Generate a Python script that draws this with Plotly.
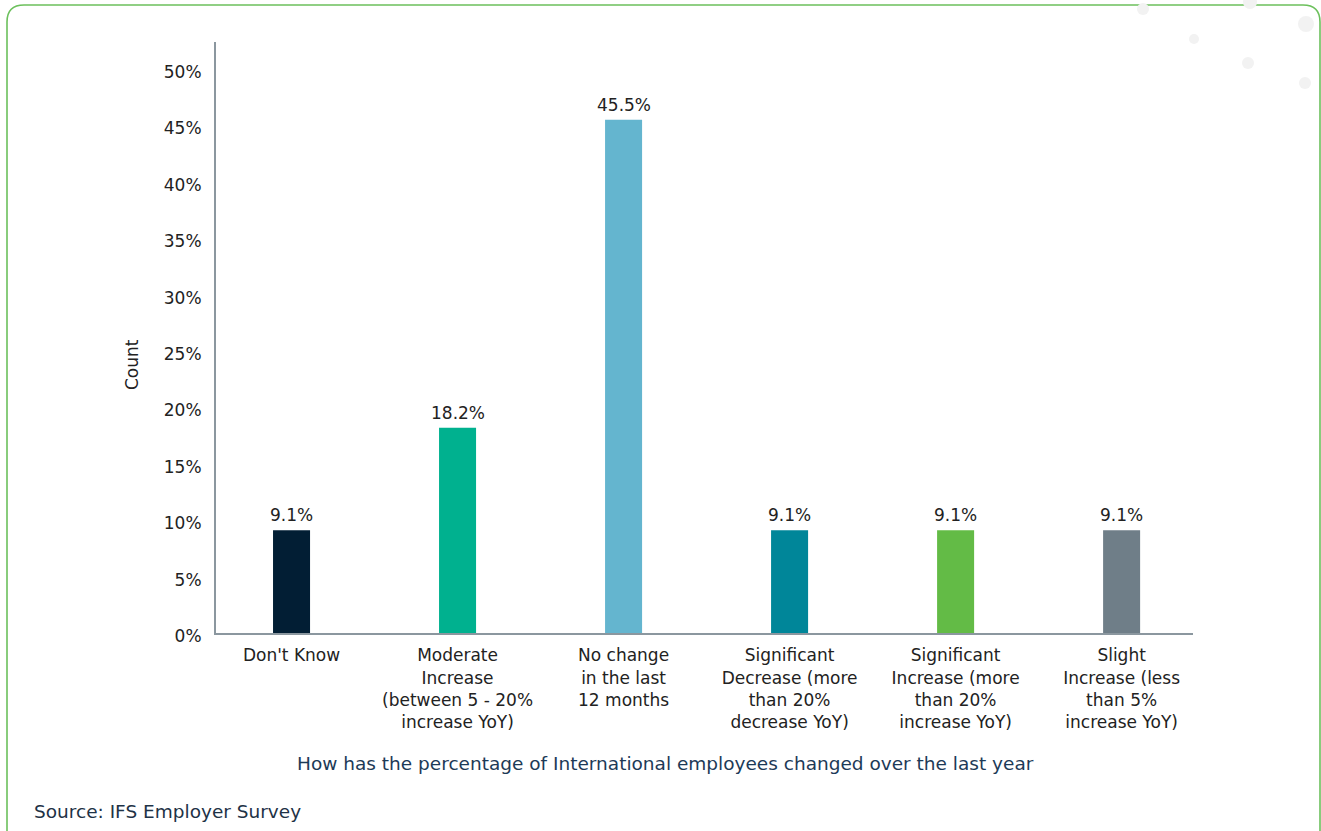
import plotly.graph_objects as go

# Survey answers and their share of respondents (%)
categories = [
    "Don't Know",
    "Moderate<br>Increase<br>(between 5 - 20%<br>increase YoY)",
    "No change<br>in the last<br>12 months",
    "Significant<br>Decrease (more<br>than 20%<br>decrease YoY)",
    "Significant<br>Increase (more<br>than 20%<br>increase YoY)",
    "Slight<br>Increase (less<br>than 5%<br>increase YoY)",
]
shares = [9.1, 18.2, 45.5, 9.1, 9.1, 9.1]
bar_colors = ["#021e34", "#00b18f", "#64b5cf", "#008699", "#63bb46", "#6f7e88"]
y_ticks = [0, 5, 10, 15, 20, 25, 30, 35, 40, 45, 50]

W, H = 1321, 831
FONT = "'DejaVu Sans', 'Noto Sans', sans-serif"
TXT = "#222222"


def px(x):
    return x / W


def py(y):
    return 1 - y / H


fig = go.Figure(
    go.Bar(
        x=list(range(len(categories))),
        y=shares,
        marker=dict(color=bar_colors, line=dict(width=0)),
        width=0.223,
        hoverinfo="skip",
    )
)

# Value labels above each bar
value_labels = [
    dict(x=i, y=v, xref="x", yref="y", text=f"{v:.1f}%", showarrow=False,
         xanchor="center", yanchor="bottom", yshift=3,
         font=dict(size=17, color=TXT, family=FONT))
    for i, v in enumerate(shares)
]

# Card border with rounded top corners
r = 17
border = (
    f"M {px(7)} {py(H + 2)} L {px(7)} {py(5 + r)} "
    f"Q {px(7)} {py(5)} {px(7 + r)} {py(5)} "
    f"L {px(1320 - r)} {py(5)} "
    f"Q {px(1320)} {py(5)} {px(1320)} {py(5 + r)} "
    f"L {px(1320)} {py(H + 2)}"
)
shapes = [
    dict(type="path", path=border, xref="paper", yref="paper",
         line=dict(color="#6cc05c", width=1.6), layer="below")
]

# Faint decorative dots in the top-right corner
dots = [(1143, 9, 6), (1250, 2, 7), (1306, 24, 8), (1194, 39, 5), (1248, 63, 6), (1305, 83, 6)]
for cx, cy, rad in dots:
    shapes.append(dict(
        type="circle", xref="paper", yref="paper",
        x0=px(cx - rad), x1=px(cx + rad), y0=py(cy + rad), y1=py(cy - rad),
        fillcolor="#f2f2f2", line=dict(width=0), layer="below",
    ))

annotations = value_labels + [
    dict(text="How has the percentage of International employees changed over the last year",
         x=px(665), y=py(763), xref="paper", yref="paper", showarrow=False,
         xanchor="center", yanchor="middle",
         font=dict(size=18.5, color="#1d3a57", family=FONT)),
    dict(text="Source: IFS Employer Survey",
         x=px(32), y=py(811), xref="paper", yref="paper", showarrow=False,
         xanchor="left", yanchor="middle",
         font=dict(size=18.5, color="#1e3246", family=FONT)),
    dict(text="Count", x=px(132), y=py(365), xref="paper", yref="paper",
         showarrow=False, textangle=-90, xanchor="center", yanchor="middle",
         font=dict(size=17, color=TXT, family=FONT)),
]

fig.update_layout(
    template="none",
    width=W, height=H,
    margin=dict(l=0, r=0, t=0, b=0, pad=0),
    paper_bgcolor="white", plot_bgcolor="white",
    showlegend=False,
    shapes=shapes,
    annotations=annotations,
    font=dict(family=FONT, size=17, color=TXT),
    xaxis=dict(
        domain=[px(216), px(1193)],
        range=[-0.455, 5.43],
        automargin=False,
        tickmode="array",
        tickvals=list(range(len(categories))),
        ticktext=categories,
        showgrid=False, zeroline=False,
        showline=True, linecolor="#8b979f", linewidth=2,
        ticks="", ticklen=0, ticklabelstandoff=6,
        tickfont=dict(size=17, color=TXT, family=FONT),
        fixedrange=True,
    ),
    yaxis=dict(
        domain=[py(633), py(42)],
        range=[0, 52.4],
        automargin=False,
        tickmode="array",
        tickvals=y_ticks,
        ticktext=[f"{t}%" for t in y_ticks],
        showgrid=False, zeroline=False,
        showline=True, linecolor="#8b979f", linewidth=2,
        ticks="", ticklabelstandoff=9, ticklabelshift=3,
        tickfont=dict(size=17, color=TXT, family=FONT),
        fixedrange=True,
    ),
)

fig.write_html("out.html")
